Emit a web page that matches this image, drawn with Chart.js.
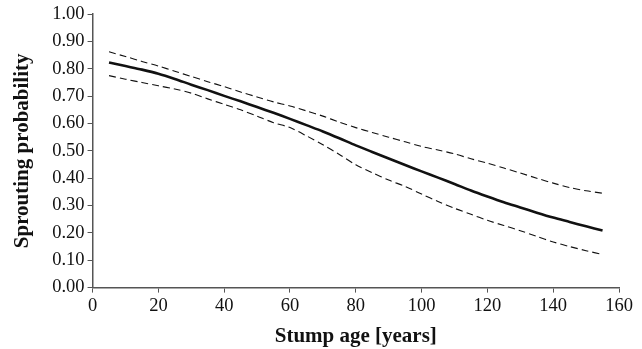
<!DOCTYPE html>
<html>
<head>
<meta charset="utf-8">
<script src="https://cdn.jsdelivr.net/npm/chart.js@4.4.0/dist/chart.umd.min.js"></script>
<style>
  html, body { margin: 0; padding: 0; background: #fff; }
  canvas { display: block; }
</style>
</head>
<body>
<canvas id="chartSprout" width="642" height="349"></canvas>
<script>
// stump age (years) at which each value was read
const ages = [5, 10, 15, 20, 25, 30, 35, 40, 45, 50, 55, 60, 65, 70, 75, 80,
              85, 90, 95, 100, 105, 110, 115, 120, 125, 130, 135, 140, 145, 150, 155];

// fitted sprouting probability
const fitted = [0.823, 0.810, 0.797, 0.782, 0.763, 0.742, 0.722, 0.701, 0.681, 0.660, 0.639,
                0.617, 0.594, 0.571, 0.546, 0.520, 0.496, 0.472, 0.448, 0.425, 0.402, 0.379,
                0.355, 0.333, 0.312, 0.293, 0.274, 0.256, 0.240, 0.224, 0.209];

// upper and lower confidence limits
const upper = [0.862, 0.845, 0.827, 0.810, 0.791, 0.772, 0.753, 0.735, 0.715, 0.697, 0.679,
               0.664, 0.646, 0.627, 0.605, 0.585, 0.567, 0.550, 0.533, 0.516, 0.503, 0.489,
               0.471, 0.455, 0.437, 0.419, 0.400, 0.382, 0.366, 0.354, 0.345];

const lower = [0.775, 0.762, 0.750, 0.738, 0.726, 0.711, 0.690, 0.670, 0.650, 0.627, 0.603,
               0.585, 0.555, 0.522, 0.487, 0.449, 0.420, 0.393, 0.370, 0.342, 0.315, 0.290,
               0.268, 0.246, 0.227, 0.208, 0.187, 0.167, 0.150, 0.135, 0.121];

const xTitle = 'Stump age [years]';
const yTitle = 'Sprouting probability';

const toPoints = (vals) => vals.map((v, i) => ({ x: ages[i], y: v }));

const serif = '"Liberation Serif", "Times New Roman", serif';
const axisColor = '#555';

const ctx = document.getElementById('chartSprout').getContext('2d');

new Chart(ctx, {
    type: 'line',
    data: {
        datasets: [
            {
                label: 'Upper',
                data: toPoints(upper),
                borderColor: '#111',
                borderWidth: 1.1,
                borderDash: [7, 4],
                pointRadius: 0,
                tension: 0.3,
            },
            {
                label: 'Fitted',
                data: toPoints(fitted),
                borderColor: '#111',
                borderWidth: 2.6,
                pointRadius: 0,
                tension: 0.3,
            },
            {
                label: 'Lower',
                data: toPoints(lower),
                borderColor: '#111',
                borderWidth: 1.1,
                borderDash: [7, 4],
                pointRadius: 0,
                tension: 0.3,
            },
        ],
    },
    options: {
        responsive: false,
        animation: false,
        layout: { padding: { left: 10, right: 23, top: 9, bottom: 0 } },
        plugins: {
            legend: { display: false },
            tooltip: { enabled: false },
        },
        scales: {
            x: {
                type: 'linear',
                min: 0,
                max: 160,
                ticks: {
                    stepSize: 20,
                    color: '#111',
                    font: { family: serif, size: 18.5 },
                    padding: 2,
                    maxRotation: 0,
                },
                grid: {
                    drawOnChartArea: false,
                    drawTicks: true,
                    tickLength: 5,
                    color: axisColor,
                },
                border: { color: axisColor, width: 1.5 },
                title: {
                    display: true,
                    text: xTitle,
                    color: '#111',
                    font: { family: serif, size: 21, weight: 'bold' },
                    padding: { top: 5, bottom: 0 },
                },
            },
            y: {
                min: 0,
                max: 1,
                ticks: {
                    stepSize: 0.1,
                    color: '#111',
                    font: { family: serif, size: 18.5 },
                    padding: 3,
                    callback: (v) => v.toFixed(2),
                },
                grid: {
                    drawOnChartArea: false,
                    drawTicks: true,
                    tickLength: 5,
                    color: axisColor,
                },
                border: { color: axisColor, width: 1.5 },
                title: {
                    display: true,
                    text: yTitle,
                    color: '#111',
                    font: { family: serif, size: 21, weight: 'bold' },
                    padding: { top: 0, bottom: 14 },
                },
            },
        },
    },
});
</script>
</body>
</html>
